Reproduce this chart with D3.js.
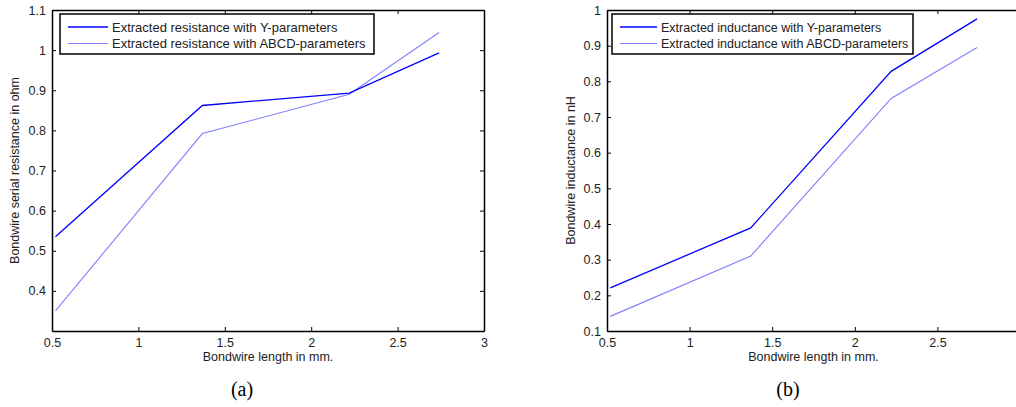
<!DOCTYPE html>
<html>
<head>
<meta charset="utf-8">
<script src="https://cdn.jsdelivr.net/npm/d3@7/dist/d3.min.js"></script>
<style>
  body { margin: 0; background: #fff; }
  text { font-family: Arial, "Liberation Sans", sans-serif; fill: #222; }
  text.cap { font-family: "Times New Roman", "Liberation Serif", serif; fill: #000; }
</style>
</head>
<body>
<svg id="fig" width="1016" height="407"></svg>
<script>
// valores
var lengthMm = [0.52, 1.37, 2.22, 2.74];
var resistanceY = [0.535, 0.862, 0.893, 0.993];
var resistanceABCD = [0.35, 0.792, 0.89, 1.044];
var inductanceY = [0.221, 0.389, 0.828, 0.975];
var inductanceABCD = [0.141, 0.31, 0.752, 0.895];

var xTicks = [0.5, 1, 1.5, 2, 2.5, 3];
var resTicks = [0.4, 0.5, 0.6, 0.7, 0.8, 0.9, 1, 1.1];
var indTicks = [0.1, 0.2, 0.3, 0.4, 0.5, 0.6, 0.7, 0.8, 0.9, 1];

var legendRes = ["Extracted resistance with Y-parameters", "Extracted resistance with ABCD-parameters"];
var legendInd = ["Extracted inductance with Y-parameters", "Extracted inductance with ABCD-parameters"];

var svg = d3.select("#fig");
svg.append("rect").attr("width", 1016).attr("height", 407).attr("fill", "#fff");

var fmt = function(d) { return String(+d.toFixed(2)); };

function panel(o) {
  var x = d3.scaleLinear().domain([0.5, 3]).range([o.left, o.right]);
  var y = d3.scaleLinear().domain(o.yDomain).range([o.bottom, o.top]);
  var g = svg.append("g");

  // ejes con ticks hacia dentro, como en MATLAB
  var bottomAx = g.append("g").attr("transform", "translate(0," + o.bottom + ")")
    .call(d3.axisBottom(x).tickValues(xTicks).tickFormat(fmt).tickSizeInner(-4).tickSizeOuter(0).tickPadding(7));
  var leftAx = g.append("g").attr("transform", "translate(" + o.left + ",0)")
    .call(d3.axisLeft(y).tickValues(o.yTicks).tickFormat(fmt).tickSizeInner(-4).tickSizeOuter(0).tickPadding(6));
  var topAx = g.append("g").attr("transform", "translate(0," + o.top + ")")
    .call(d3.axisTop(x).tickValues(xTicks).tickFormat("").tickSizeInner(-4).tickSizeOuter(0));
  var rightAx = g.append("g").attr("transform", "translate(" + o.right + ",0)")
    .call(d3.axisRight(y).tickValues(o.yTicks).tickFormat("").tickSizeInner(-4).tickSizeOuter(0));

  [bottomAx, leftAx, topAx, rightAx].forEach(function(a) {
    a.select(".domain").attr("stroke", "#000").attr("stroke-width", 1.5);
    a.selectAll(".tick line").attr("stroke", "#000").attr("stroke-width", 1);
    a.selectAll("text").attr("font-size", 12.5);
  });

  // series
  var line = d3.line().x(function(d) { return x(d[0]); }).y(function(d) { return y(d[1]); });
  g.append("path").datum(d3.zip(lengthMm, o.valsABCD))
    .attr("fill", "none").attr("stroke", "#8080ff").attr("stroke-width", 1.1).attr("d", line);
  g.append("path").datum(d3.zip(lengthMm, o.valsY))
    .attr("fill", "none").attr("stroke", "#0000ff").attr("stroke-width", 1.3).attr("d", line);

  // leyenda
  var lg = g.append("g");
  lg.append("rect").attr("x", o.leg.x).attr("y", 14).attr("width", o.leg.w).attr("height", 40)
    .attr("fill", "#fff").attr("stroke", "#000").attr("stroke-width", 1.5);
  var colors = ["#0000ff", "#8080ff"];
  o.labels.forEach(function(t, i) {
    var yy = 27 + i * 16.5;
    lg.append("line").attr("x1", o.leg.x + 8).attr("x2", o.leg.x + o.leg.lineW)
      .attr("y1", yy).attr("y2", yy).attr("stroke", colors[i]).attr("stroke-width", i ? 1.1 : 1.3);
    lg.append("text").attr("x", o.leg.x + o.leg.lineW + 4).attr("y", yy + 4.5)
      .attr("font-size", o.leg.fs).text(t);
  });

  // titulos de ejes
  g.append("text").attr("x", (o.left + o.right) / 2).attr("y", 361)
    .attr("text-anchor", "middle").attr("font-size", 12.5).text("Bondwire length in mm.");
  g.append("text").attr("transform", "translate(" + o.ylabX + "," + (o.top + o.bottom) / 2 + ") rotate(-90)")
    .attr("text-anchor", "middle").attr("font-size", 12.5).text(o.ylab);
  g.append("text").attr("class", "cap").attr("x", o.capX).attr("y", 396).attr("text-anchor", "middle")
    .attr("font-size", 20).text(o.cap);
}

panel({
  left: 52, right: 484, top: 10, bottom: 331,
  yDomain: [0.3, 1.1], yTicks: resTicks,
  valsY: resistanceY, valsABCD: resistanceABCD,
  labels: legendRes, leg: { x: 60, w: 314, lineW: 48, fs: 13 },
  ylab: "Bondwire serial resistance in ohm", ylabX: 19,
  cap: "(a)", capX: 242
});

panel({
  left: 607, right: 1020, top: 10, bottom: 331,
  yDomain: [0.1, 1], yTicks: indTicks,
  valsY: inductanceY, valsABCD: inductanceABCD,
  labels: legendInd, leg: { x: 612, w: 301, lineW: 45, fs: 12.5 },
  ylab: "Bondwire inductance in nH", ylabX: 575,
  cap: "(b)", capX: 788
});
</script>
</body>
</html>
